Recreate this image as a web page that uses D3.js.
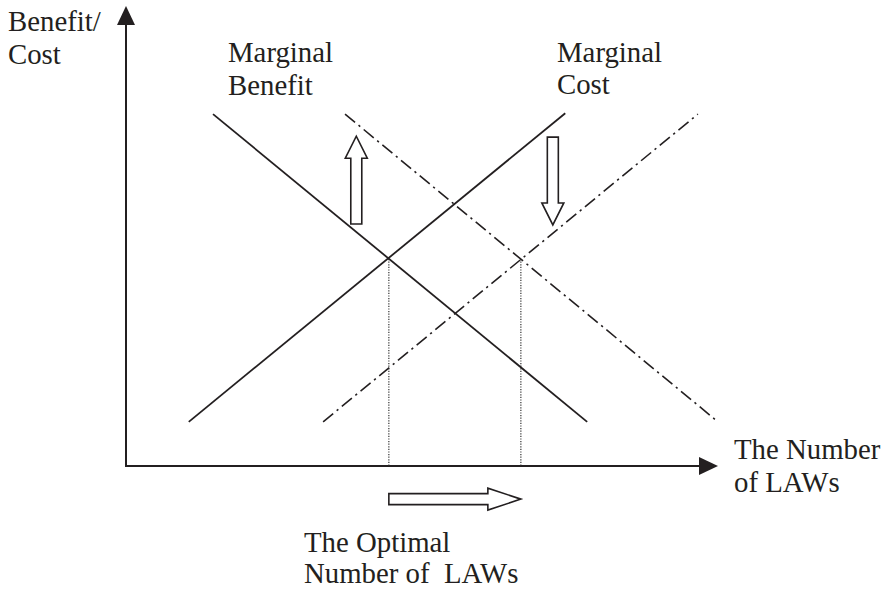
<!DOCTYPE html>
<html>
<head>
<meta charset="utf-8">
<script src="https://cdn.jsdelivr.net/npm/d3@7/dist/d3.min.js"></script>
<style>
  html, body { margin: 0; padding: 0; background: #ffffff; }
  svg { display: block; }
  text { font-family: "Liberation Serif", "Times New Roman", serif; fill: #231f20; }
</style>
</head>
<body>
<svg id="chart" width="887" height="589"></svg>
<script>
// ---- data (abstract units: x = number of laws, y = benefit/cost) ----
const curveNames = ["Marginal Benefit", "Marginal Cost", "Marginal Benefit (shifted)", "Marginal Cost (shifted)"];
const curveStyles = ["solid", "solid", "dashdot", "dashdot"];
const curveX = [[1.47, 7.79], [1.06, 7.42], [3.70, 10.0], [3.33, 9.66]];
const curveY = [[7.65, 0.96], [0.96, 7.67], [7.65, 0.96], [0.96, 7.65]];

const optimalX = [4.44, 6.67];
const optimalY = [4.50, 4.50];

// shift arrows: [x, yFrom, yTo] vertical ; horizontal one uses optimalX
const shiftArrowX = [3.89, 7.21];
const shiftArrowFrom = [5.26, 7.15];
const shiftArrowTo = [7.17, 5.24];
const optimalArrowY = -0.72;

const yLabelLines = ["Benefit/", "Cost"];
const xLabelLines = ["The Number", "of LAWs"];
const mbLabelLines = ["Marginal", "Benefit"];
const mcLabelLines = ["Marginal", "Cost"];
const optLabelLines = ["The Optimal", "Number of  LAWs"];

// ---- scales ----
const x = d3.scaleLinear().domain([0, 10]).range([126, 718]);
const y = d3.scaleLinear().domain([0, 10]).range([466, 6]);

const svg = d3.select("#chart");
const ink = "#231f20";

// ---- axes ----
const axisG = svg.append("g");
axisG.append("line")
  .attr("x1", x(0)).attr("y1", y(0)).attr("x2", x(0)).attr("y2", y(10) + 18)
  .attr("stroke", ink).attr("stroke-width", 2);
axisG.append("line")
  .attr("x1", x(0) - 1).attr("y1", y(0)).attr("x2", x(10) - 18).attr("y2", y(0))
  .attr("stroke", ink).attr("stroke-width", 2.2);
// arrowheads
axisG.append("path")
  .attr("d", `M${x(0)},${y(10)} L${x(0) - 9},${y(10) + 19} L${x(0) + 9},${y(10) + 19} Z`)
  .attr("fill", ink);
axisG.append("path")
  .attr("d", `M${x(10)},${y(0)} L${x(10) - 19},${y(0) - 9} L${x(10) - 19},${y(0) + 9} Z`)
  .attr("fill", ink);

// ---- optimal dotted verticals ----
svg.append("g").selectAll("line").data(optimalX).join("line")
  .attr("x1", d => x(d)).attr("x2", d => x(d))
  .attr("y1", (d, i) => y(optimalY[i])).attr("y2", y(0))
  .attr("stroke", "#333").attr("stroke-width", 1.2)
  .attr("stroke-dasharray", "1.2,1.4");

// ---- curves ----
const line = d3.line().x(d => x(d[0])).y(d => y(d[1]));
svg.append("g").selectAll("path").data(curveNames).join("path")
  .attr("d", (d, i) => line(curveX[i].map((v, j) => [v, curveY[i][j]])))
  .attr("fill", "none")
  .attr("stroke", ink)
  .attr("stroke-width", (d, i) => curveStyles[i] === "dashdot" ? 1.6 : 1.8)
  .attr("stroke-dasharray", (d, i) => curveStyles[i] === "dashdot" ? "13,4.5,2.2,4.5" : null);

// ---- hollow block arrows ----
function blockArrow(x0, y0, x1, y1, shaftW, headW, headL) {
  const dx = x1 - x0, dy = y1 - y0, L = Math.hypot(dx, dy);
  const ux = dx / L, uy = dy / L, nx = -uy, ny = ux;
  const p = (a, b) => [x0 + ux * a + nx * b, y0 + uy * a + ny * b];
  const pts = [p(0, -shaftW / 2), p(L - headL, -shaftW / 2), p(L - headL, -headW / 2), p(L, 0),
               p(L - headL, headW / 2), p(L - headL, shaftW / 2), p(0, shaftW / 2)];
  return "M" + pts.map(q => q.join(",")).join("L") + "Z";
}
const arrowG = svg.append("g");
shiftArrowX.forEach((ax, i) => {
  arrowG.append("path")
    .attr("d", blockArrow(x(ax), y(shiftArrowFrom[i]), x(ax), y(shiftArrowTo[i]), 11, 22, 22))
    .attr("fill", "#fff").attr("stroke", ink).attr("stroke-width", 1.6)
    .attr("stroke-linejoin", "miter");
});
arrowG.append("path")
  .attr("d", blockArrow(x(optimalX[0]), y(optimalArrowY), x(optimalX[1]), y(optimalArrowY), 11, 22, 33))
  .attr("fill", "#fff").attr("stroke", ink).attr("stroke-width", 1.6);

// ---- labels ----
function label(lines, lx, ly, lh) {
  const t = svg.append("text").attr("font-size", 28.8);
  lines.forEach((s, i) => {
    t.append("tspan").attr("x", lx).attr("y", ly + i * lh).text(s)
      .attr("xml:space", "preserve").style("white-space", "pre");
  });
}
label(yLabelLines, 8, 31, 33);
label(mbLabelLines, 228, 62, 33);
label(mcLabelLines, 557, 62, 32);
label(xLabelLines, 734, 459, 33);
label(optLabelLines, 304, 552, 31);
</script>
</body>
</html>
